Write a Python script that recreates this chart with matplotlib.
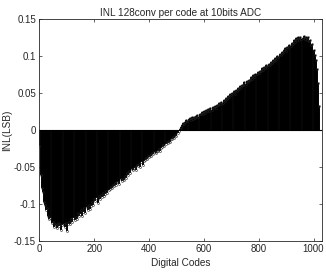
import matplotlib
matplotlib.use("Agg")
import matplotlib.pyplot as plt

codes = list(range(0, 1024, 4))
inl = [
    -0.022, -0.061, -0.078, -0.084, -0.097, -0.101, -0.108, -0.106, -0.117, -0.121, -0.119, -0.126, -0.124, -0.131, -0.127, -0.129,
    -0.133, -0.126, -0.130, -0.128, -0.135, -0.129, -0.127, -0.132, -0.126, -0.137, -0.128, -0.124, -0.127, -0.121, -0.125, -0.119,
    -0.122, -0.118, -0.121, -0.113, -0.117, -0.114, -0.109, -0.116, -0.111, -0.106, -0.112, -0.104, -0.109, -0.101, -0.107, -0.103,
    -0.097, -0.101, -0.094, -0.096, -0.092, -0.099, -0.090, -0.093, -0.088, -0.091, -0.086, -0.089, -0.087, -0.083, -0.085, -0.081,
    -0.080, -0.077, -0.079, -0.074, -0.076, -0.072, -0.075, -0.070, -0.071, -0.073, -0.067, -0.069, -0.066, -0.068, -0.063, -0.065,
    -0.059, -0.061, -0.056, -0.058, -0.053, -0.055, -0.052, -0.050, -0.054, -0.048, -0.049, -0.046, -0.050, -0.044, -0.047, -0.042,
    -0.041, -0.038, -0.040, -0.035, -0.037, -0.034, -0.036, -0.031, -0.033, -0.030, -0.032, -0.028, -0.029, -0.026, -0.028, -0.024,
    -0.023, -0.021, -0.022, -0.019, -0.017, -0.018, -0.015, -0.016, -0.012, -0.013, -0.010, -0.011, -0.007, -0.008, -0.004, -0.002,
    0.001, 0.004, 0.006, 0.009, 0.008, 0.011, 0.013, 0.012, 0.014, 0.016, 0.013, 0.017, 0.015, 0.018, 0.016, 0.019,
    0.020, 0.018, 0.022, 0.021, 0.024, 0.022, 0.025, 0.023, 0.027, 0.025, 0.028, 0.026, 0.030, 0.027, 0.031, 0.029,
    0.032, 0.030, 0.034, 0.033, 0.036, 0.035, 0.038, 0.036, 0.041, 0.039, 0.043, 0.042, 0.046, 0.044, 0.049, 0.047,
    0.050, 0.052, 0.049, 0.054, 0.053, 0.057, 0.055, 0.059, 0.058, 0.061, 0.060, 0.064, 0.062, 0.066, 0.065, 0.068,
    0.068, 0.071, 0.069, 0.074, 0.072, 0.076, 0.075, 0.078, 0.077, 0.080, 0.079, 0.083, 0.081, 0.085, 0.083, 0.087,
    0.086, 0.089, 0.088, 0.092, 0.090, 0.094, 0.093, 0.097, 0.095, 0.100, 0.098, 0.103, 0.101, 0.105, 0.104, 0.108,
    0.110, 0.107, 0.112, 0.111, 0.115, 0.113, 0.118, 0.116, 0.121, 0.119, 0.124, 0.122, 0.126, 0.121, 0.125, 0.123,
    0.124, 0.127, 0.123, 0.126, 0.122, 0.125, 0.120, 0.121, 0.115, 0.116, 0.108, 0.101, 0.094, 0.082, 0.063, 0.032,
]

title = "INL 128conv per code at 10bits ADC"
xlabel = "Digital Codes"
ylabel = "INL(LSB)"
xticks = [0, 200, 400, 600, 800, 1000]
yticks = [-0.15, -0.1, -0.05, 0, 0.05, 0.1, 0.15]
yticklabels = ["-0.15", "-0.1", "-0.05", "0", "0.05", "0.1", "0.15"]

plt.rcParams['font.family'] = ['Liberation Sans', 'DejaVu Sans']

fig = plt.figure(figsize=(3.26, 2.78), dpi=100)
ax = fig.add_axes([0.121, 0.134, 0.866, 0.798])

ax.vlines(codes, 0, inl, colors='black', linewidth=1.4)
ax.plot(codes, inl, linestyle='none', marker='o', markersize=1.4,
        markerfacecolor='none', markeredgecolor='#222222', markeredgewidth=0.4)
ax.axhline(0, color='black', linewidth=0.8)

ax.set_xlim(0, 1030)
ax.set_ylim(-0.15, 0.15)
ax.set_xticks(xticks)
ax.set_yticks(yticks)
ax.set_yticklabels(yticklabels)
ax.tick_params(direction='in', length=2.5, width=0.5, labelsize=7,
               top=True, right=True, colors='#262626', pad=2.5)
for s in ax.spines.values():
    s.set_linewidth(0.6)
    s.set_color('#262626')

ax.set_title(title, fontsize=7.2, color='#262626', pad=2)
ax.set_xlabel(xlabel, fontsize=7.2, color='#262626', labelpad=3)
ax.set_ylabel(ylabel, fontsize=7.2, color='#262626', labelpad=1)

fig.savefig("out.png", dpi=100, facecolor='white')
